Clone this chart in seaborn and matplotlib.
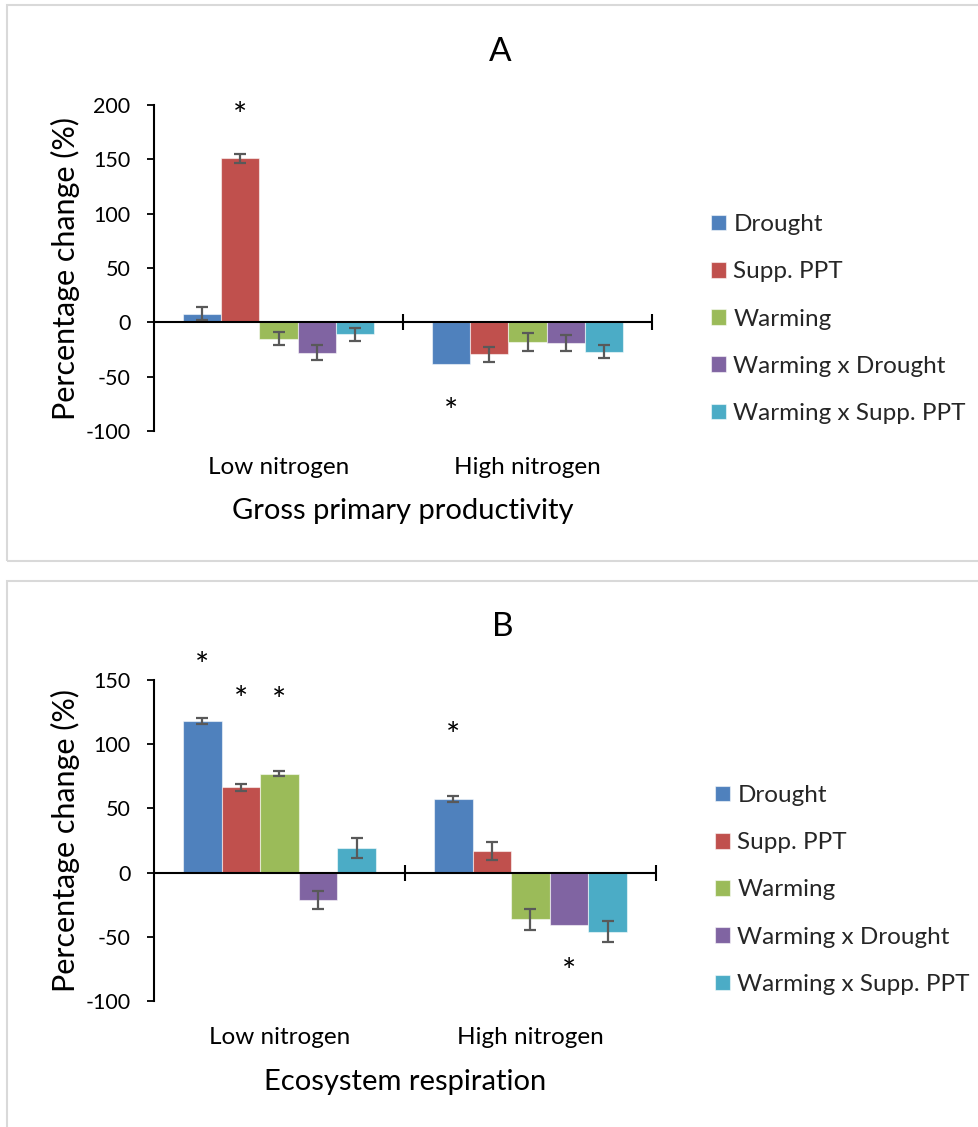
import numpy as np
import pandas as pd
import matplotlib
matplotlib.use("Agg")
import matplotlib.pyplot as plt
from matplotlib.patches import Rectangle
from matplotlib.transforms import offset_copy
import seaborn as sns

# ---- data -------------------------------------------------------------
nitrogen = ["Low nitrogen", "High nitrogen"]
treatments = ["Drought", "Supp. PPT", "Warming", "Warming x Drought", "Warming x Supp. PPT"]
colors = ["#4F81BD", "#C0504D", "#9BBB59", "#8064A2", "#4BACC6"]

# Gross primary productivity (% change), per nitrogen level
gpp_low = [8, 151, -15, -28, -11]
gpp_high = [-38, -29.5, -18, -19, -27]
gpp_low_se = [6, 4, 6, 7, 6]
gpp_high_se = [np.nan, 7, 8, 7, 6]

# Ecosystem respiration (% change), per nitrogen level
er_low = [118, 66.5, 77, -21, 19]
er_high = [57.5, 16.5, -36.5, -41, -46]
er_low_se = [2.6, 2.6, 2, 7, 8]
er_high_se = [2.4, 7, 8, np.nan, 8]

# significance markers: (nitrogen level, treatment, y position)
gpp_stars = [("Low nitrogen", "Supp. PPT", 197), ("High nitrogen", "Drought", -76)]
er_stars = [("Low nitrogen", "Drought", 167), ("Low nitrogen", "Supp. PPT", 140),
            ("Low nitrogen", "Warming", 139), ("High nitrogen", "Drought", 112),
            ("High nitrogen", "Warming x Drought", -72)]


def make_frame(low, high, low_se, high_se):
    rows = []
    for lvl, vals, ses in [(nitrogen[0], low, low_se), (nitrogen[1], high, high_se)]:
        for t, v, s in zip(treatments, vals, ses):
            rows.append({"nitrogen": lvl, "treatment": t, "value": v, "se": s})
    return pd.DataFrame(rows)


gpp = make_frame(gpp_low, gpp_high, gpp_low_se, gpp_high_se)
er = make_frame(er_low, er_high, er_low_se, er_high_se)

# ---- style ------------------------------------------------------------
sns.set_theme(style="white")
plt.rcParams["font.family"] = ["Lato", "DejaVu Sans"]

W, H = 979, 1127
fig = plt.figure(figsize=(W / 100, H / 100), dpi=100)

# panel frames
for (y0, y1) in [(5, 561), (581, 1140)]:
    fig.patches.append(Rectangle((7 / W, 1 - y1 / H), 1.2, (y1 - y0) / H,
                                 transform=fig.transFigure, fill=False,
                                 edgecolor="#D9D9D9", linewidth=1.5, zorder=0))


def draw_panel(df, stars, rect, ylim, yticks, title, title_xy, xlabel, xlabel_y,
               leg_xy):
    left, top, right, bottom = rect
    ax = fig.add_axes([left / W, 1 - bottom / H, (right - left) / W, (bottom - top) / H])
    sns.barplot(data=df, x="nitrogen", y="value", hue="treatment", order=nitrogen,
                hue_order=treatments, palette=colors, width=0.77, errorbar=None,
                saturation=1, edgecolor=(1, 1, 1, 0.55), linewidth=0.8, ax=ax,
                legend=True)

    # error bars at each bar's centre
    for t, cont in zip(treatments, ax.containers):
        for lvl, bar in zip(nitrogen, cont):
            row = df[(df.nitrogen == lvl) & (df.treatment == t)].iloc[0]
            if np.isnan(row.se):
                continue
            cx = bar.get_x() + bar.get_width() / 2
            ax.errorbar(cx, row.value, yerr=row.se, fmt="none", ecolor="#595959",
                        elinewidth=1.6, capsize=4.5, capthick=1.6, zorder=4)

    # significance asterisks (glyph sits high in its box, so nudge it down)
    star_tr = offset_copy(ax.transData, fig=fig, y=-6, units="points")
    for lvl, t, y in stars:
        bar = ax.containers[treatments.index(t)][nitrogen.index(lvl)]
        cx = bar.get_x() + bar.get_width() / 2
        ax.text(cx, y, "*", ha="center", va="center", fontsize=24, color="black",
                transform=star_tr)

    ax.set_xlim(-0.5, 1.5)
    ax.set_ylim(*ylim)
    ax.set_yticks(yticks)
    ax.set_yticklabels([str(v) for v in yticks])
    for s in ["top", "right", "bottom"]:
        ax.spines[s].set_visible(False)
    ax.spines["left"].set_color("black")
    ax.spines["left"].set_linewidth(1.5)
    ax.tick_params(axis="y", left=True, length=5, width=1.3, color="black",
                   labelsize=15.5, pad=12, labelcolor="black")
    ax.tick_params(axis="x", length=0, labelsize=17.5, pad=19, labelcolor="black")
    ax.set_xlabel("")
    ax.set_ylabel("Percentage change (%)", fontsize=22, color="black")
    ax.yaxis.set_label_coords((80 - left) / (right - left), 0.5)

    # category axis through zero with boundary tick marks
    ax.axhline(0, color="black", linewidth=1.5, zorder=5)
    ax.plot([0.5, 1.5], [0, 0], ls="none", marker="|", ms=12, mew=1.5,
            color="black", clip_on=False, zorder=5)

    fig.text(title_xy[0] / W, 1 - title_xy[1] / H, title, ha="center",
             va="center", fontsize=24, color="black")
    fig.text((left + right) / 2 / W, 1 - xlabel_y / H, xlabel, ha="center",
             va="center", fontsize=21, color="black")

    handles, labels = ax.get_legend_handles_labels()
    ax.legend(handles, labels, loc="upper left",
              bbox_to_anchor=(leg_xy[0] / W, 1 - leg_xy[1] / H),
              bbox_transform=fig.transFigure, frameon=False, fontsize=17.5,
              handlelength=0.62, handleheight=0.62, handletextpad=0.3,
              labelspacing=1.08, borderaxespad=0, borderpad=0)
    return ax


draw_panel(gpp, gpp_stars, (154, 105, 652, 431), (-100, 200),
           [-100, -50, 0, 50, 100, 150, 200], "A", (500, 52),
           "Gross primary productivity", 511, (711, 214))
draw_panel(er, er_stars, (154, 680, 656, 1001), (-100, 150),
           [-100, -50, 0, 50, 100, 150], "B", (503, 627),
           "Ecosystem respiration", 1082, (715, 785))

fig.savefig("out.png", dpi=100)
